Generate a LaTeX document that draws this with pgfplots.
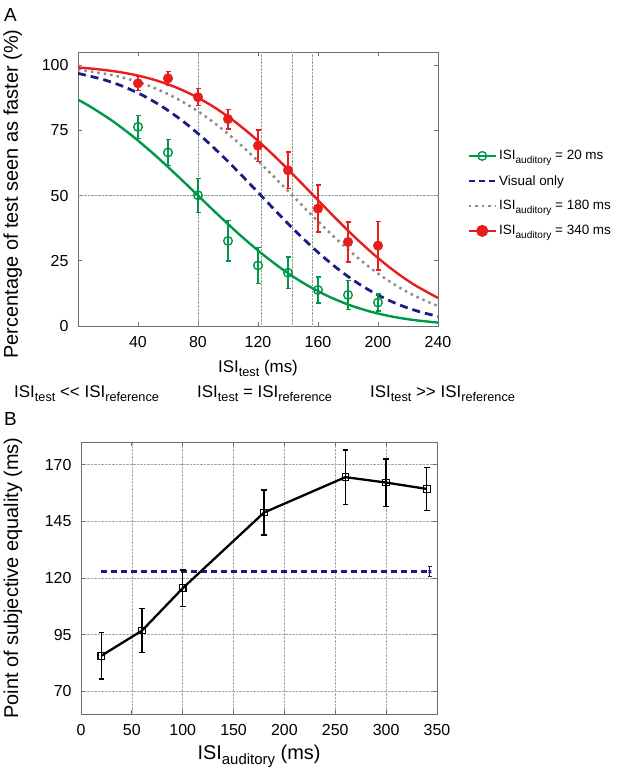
\documentclass[border=0pt]{standalone}
\usepackage{fontspec}
\setmainfont{Liberation Sans}
\usepackage{pgfplots}
\pgfplotsset{compat=1.18}

\definecolor{cgreen}{RGB}{0,152,72}
\definecolor{cred}{RGB}{232,30,30}
\definecolor{cblue}{RGB}{28,28,130}
\definecolor{cgray}{RGB}{140,140,140}
\definecolor{frame}{RGB}{110,110,110}

% subscript as in the figure
\newcommand\sub[1]{\raisebox{-0.25em}{\scalebox{0.75}{#1}}}
\newcommand\fs[1]{\fontsize{#1}{#1}\selectfont}

\begin{document}
\begin{tikzpicture}
\useasboundingbox (0,0) rectangle (623bp,-775bp);

% ---------- panel A ----------
\begin{axis}[
  at={(78bp,-326bp)}, anchor=south west,
  scale only axis, width=360bp, height=274bp,
  xmin=0, xmax=240, ymin=0, ymax=105,
  xtick={40,80,...,240}, ytick={0,25,50,75,100},
  extra x ticks={80,122,143,156}, extra x tick labels={},
  extra x tick style={grid=major, tick style={draw=none}},
  extra y ticks={50}, extra y tick labels={},
  extra y tick style={grid=major, tick style={draw=none}},
  major grid style={densely dotted, black!40, line width=0.6bp},
  axis line style={frame, line width=0.8bp},
  tick style={frame, line width=0.8bp},
  tick label style={font=\fs{16}},
  xticklabel style={yshift=-7bp},
  yticklabel style={xshift=-6bp},
  /pgf/number format/assume math mode=true,
  ylabel={Percentage of test seen as faster (\%)},
  ylabel style={font=\fs{20}, at={(axis description cs:-0.181,0.482)}, anchor=center},
  xlabel={ISI\sub{test} (ms)},
  xlabel style={font=\fs{17}, at={(axis description cs:0.5,-0.168)}, anchor=base},
  legend style={at={(1.081,0.484)}, anchor=west, draw=none, fill=none,
    font=\fs{13.5}, row sep=10bp, inner sep=0pt},
  legend cell align=left,
  legend image code/.code={\draw[mark repeat=2,mark phase=2]
    plot coordinates {(0bp,0bp) (13.5bp,0bp) (27bp,0bp)};},
]
% fitted curves
\addplot[cgreen, line width=2.4bp, smooth, forget plot] coordinates {
(0,86.7)(8,84.13)(22.4,78.81)(36.8,72.57)(51.2,65.54)(65.6,57.93)(80,50)
(94.4,42.07)(108.8,34.46)(123.2,27.43)(137.6,21.19)(152,15.87)(166.4,11.51)
(180.8,8.08)(195.2,5.48)(209.6,3.59)(224,2.28)(240,1.31)};
\addplot[cblue, line width=2.8bp, dash pattern=on 8bp off 5bp, smooth, forget plot] coordinates {
(0,96.8)(16.4,94.52)(29.6,91.92)(42.8,88.49)(56,84.13)(69.2,78.81)(82.4,72.57)
(95.6,65.54)(108.8,57.93)(122,50)(135.2,42.07)(148.4,34.46)(161.6,27.43)
(174.8,21.19)(188,15.87)(201.2,11.51)(214.4,8.08)(227.6,5.48)(240,3.67)};
\addplot[cgray, line width=2.5bp, dash pattern=on 2.5bp off 4bp, smooth, forget plot] coordinates {
(0,98.2)(20.6,96.41)(34.2,94.52)(47.8,91.92)(61.4,88.49)(75,84.13)(88.6,78.81)
(102.2,72.57)(115.8,65.54)(129.4,57.93)(143,50)(156.6,42.07)(170.2,34.46)
(183.8,27.43)(197.4,21.19)(211,15.87)(224.6,11.51)(240,7.64)};
\addplot[cred, line width=2.4bp, smooth, forget plot] coordinates {
(0,99.04)(9.6,98.61)(23,97.72)(36.4,96.41)(49.8,94.52)(63.2,91.92)(76.6,88.49)
(90,84.13)(103.4,78.81)(116.8,72.57)(130.2,65.54)(143.6,57.93)(157,50)
(170.4,42.07)(183.8,34.46)(197.2,27.43)(210.6,21.19)(224,15.87)(240,10.75)};
% data points
\addplot[cgreen, only marks, mark=o, mark size=4.3bp, mark options={line width=1.4bp},
  forget plot,
  error bars/.cd, y dir=both, y explicit,
  error bar style={line width=1.3bp},
  error mark options={rotate=90, mark size=2.5bp, line width=1.3bp}]
coordinates {
(40,76.3) +- (0,4.5) (60,66.5) +- (0,5) (80,50.1) +- (0,6.5)
(100,32.6) +- (0,7.7) (120,23.2) +- (0,7) (140,20.4) +- (0,6)
(160,13.8) +- (0,5) (180,11.9) +- (0,5.5) (200,9) +- (0,3.3)};
\addplot[cred, only marks, mark=*, mark size=4.8bp, forget plot,
  error bars/.cd, y dir=both, y explicit,
  error bar style={line width=1.3bp},
  error mark options={rotate=90, mark size=2.5bp, line width=1.3bp}]
coordinates {
(40,93) +- (0,2.7) (60,94.9) +- (0,2.5) (80,87.7) +- (0,3.2)
(100,79.3) +- (0,3.8) (120,69.1) +- (0,6) (140,59.7) +- (0,7)
(160,45) +- (0,9) (180,32.2) +- (0,7.7) (200,30.8) +- (0,9.3)};
% legend
\addlegendimage{cgreen, line width=2.4bp, mark=o, mark size=4.3bp, mark options={line width=1.4bp}}
\addlegendentry{ISI\sub{auditory} = 20 ms}
\addlegendimage{cblue, line width=2.8bp, dash pattern=on 6bp off 4bp}
\addlegendentry{Visual only}
\addlegendimage{cgray, line width=2.5bp, dash pattern=on 2.5bp off 4bp}
\addlegendentry{ISI\sub{auditory} = 180 ms}
\addlegendimage{cred, line width=2.4bp, mark=*, mark size=4.8bp}
\addlegendentry{ISI\sub{auditory} = 340 ms}
\end{axis}

% ---------- panel B ----------
\begin{axis}[
  at={(81bp,-714bp)}, anchor=south west,
  scale only axis, width=356bp, height=272bp,
  xmin=0, xmax=350, ymin=60, ymax=180,
  xtick={0,50,...,350}, ytick={70,95,120,145,170},
  grid=major,
  major grid style={densely dotted, black!35, line width=0.6bp},
  axis line style={frame, line width=0.8bp},
  tick style={frame, line width=0.8bp},
  tick label style={font=\fs{16}},
  xticklabel style={yshift=-7bp},
  yticklabel style={xshift=-6bp},
  /pgf/number format/assume math mode=true,
  ylabel={Point of subjective equality (ms)},
  ylabel style={font=\fs{20}, at={(axis description cs:-0.191,0.5)}, anchor=center},
  xlabel={ISI\sub{auditory} (ms)},
  xlabel style={font=\fs{20}, at={(axis description cs:0.5,-0.169)}, anchor=base},
]
\addplot[cblue, line width=2.6bp, dash pattern=on 6bp off 4bp] coordinates {
(20,122.8) (340,122.8)};
\addplot[cblue, only marks, mark=x, mark size=2bp, mark options={line width=1bp},
  error bars/.cd, y dir=both, y explicit,
  error bar style={line width=1.2bp},
  error mark options={rotate=90, mark size=2.2bp, line width=1.2bp}]
coordinates {(343,122.8) +- (0,2.2)};
\addplot[black, line width=2.3bp, mark=square, mark size=3.3bp,
  mark options={line width=1.1bp, fill=white},
  error bars/.cd, y dir=both, y explicit,
  error bar style={line width=1.3bp},
  error mark options={rotate=90, mark size=2.8bp, line width=1.3bp}]
coordinates {
(20,85.7) +- (0,10.2) (60,96.8) +- (0,9.6) (100,115.5) +- (0,8)
(180,148.9) +- (0,9.9) (260,164.5) +- (0,12) (300,162.1) +- (0,10.4)
(340,159.3) +- (0,9.6)};
\end{axis}

% ---------- loose text ----------
\node[anchor=base west, font=\fs{19}, inner sep=0pt] at (4bp,-21bp) {A};
\node[anchor=base west, font=\fs{19}, inner sep=0pt] at (4bp,-425bp) {B};
\node[anchor=base west, font=\fs{17}, inner sep=0pt] at (14bp,-397bp)
  {ISI\sub{test} <\kern0pt< ISI\sub{reference}};
\node[anchor=base west, font=\fs{17}, inner sep=0pt] at (197bp,-397bp)
  {ISI\sub{test} = ISI\sub{reference}};
\node[anchor=base west, font=\fs{17}, inner sep=0pt] at (370bp,-397bp)
  {ISI\sub{test} >\kern0pt> ISI\sub{reference}};
\end{tikzpicture}
\end{document}
